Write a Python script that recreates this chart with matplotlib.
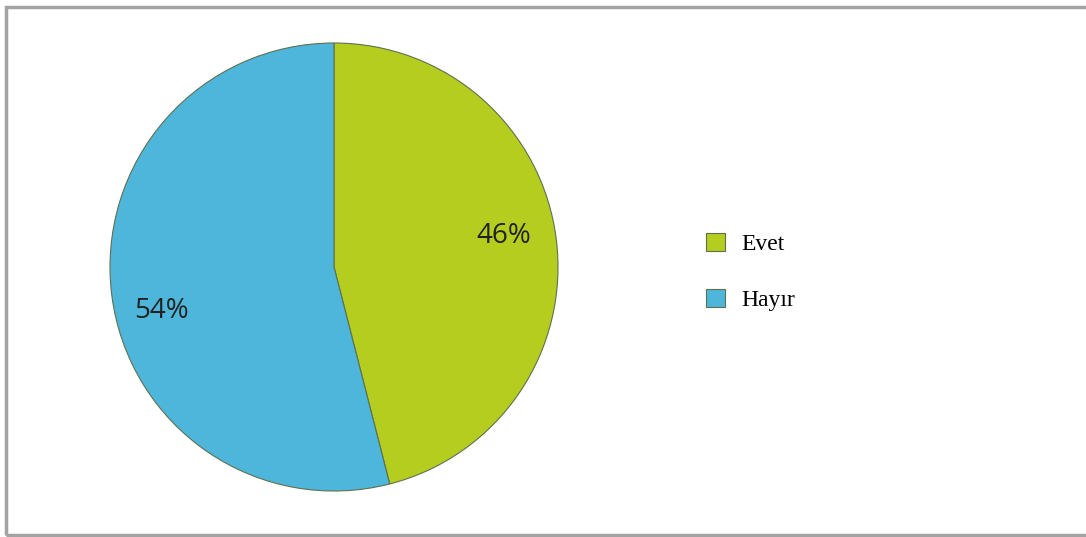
import matplotlib.pyplot as plt
from matplotlib.patches import Rectangle

labels = ["Evet", "Hayır"]
values = [46, 54]
colors = ["#b5cd1e", "#4db6da"]
# label spots (fraction of radius, x/y)
label_xy = [(0.76, 0.137), (-0.77, -0.198)]

W, H = 1086, 537
fig = plt.figure(figsize=(W / 100, H / 100), dpi=100)

# gray frame around the chart area
fig.patches.append(Rectangle((5.5 / W, 2 / H), 1.2, 1 - 8.5 / H, transform=fig.transFigure,
                             fill=False, edgecolor="#a3a3a3", linewidth=2.5))

cx, cy, r = 334, 267, 224
ax = fig.add_axes([(cx - r) / W, (H - cy - r) / H, 2 * r / W, 2 * r / H])
wedges, texts, autotexts = ax.pie(
    values, colors=colors, startangle=90, counterclock=False, radius=1,
    autopct="%d%%", pctdistance=0.77,
    wedgeprops=dict(edgecolor="#5f7050", linewidth=0.8),
    textprops=dict(fontsize=20, color="#222222", family="Open Sans"),
)
for t, xy in zip(autotexts, label_xy):
    t.set_position(xy)
ax.set_xlim(-1, 1)
ax.set_ylim(-1, 1)

fig.legend(wedges, labels, loc="upper left", bbox_to_anchor=(685 / W, 1 - 212 / H),
           frameon=False, prop=dict(family="Liberation Serif", size=17),
           handlelength=0.78, handleheight=0.78, labelspacing=1.42, handletextpad=0.7)

fig.savefig("out.png", dpi=100)
